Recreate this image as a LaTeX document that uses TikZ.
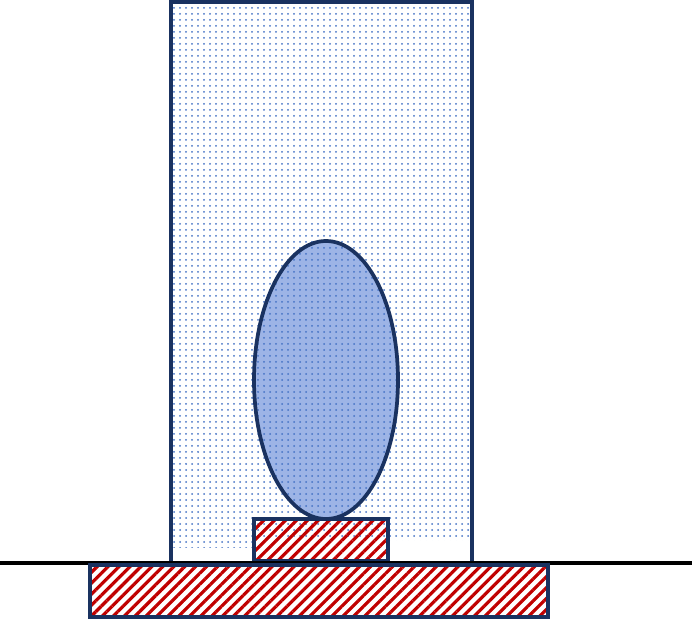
\documentclass[tikz,border=0pt]{standalone}
\usepackage{tikz}
\usetikzlibrary{patterns.meta}
\definecolor{navy}{HTML}{1A3260}
\definecolor{dotblue}{HTML}{4472C4}
\definecolor{eggblue}{HTML}{9DB4E6}
\definecolor{hatchred}{HTML}{C00000}

\begin{document}
\begin{tikzpicture}[x=0.75pt,y=-0.75pt,
		outline/.style={draw=navy,line width=2.8pt},
		hatched/.style={pattern={Lines[angle=45,distance=5.8pt,line width=2.4pt]},pattern color=hatchred},
		dotted fill/.style={pattern={Dots[distance=4.5pt,radius=0.75pt]},pattern color=dotblue}]
			\useasboundingbox (0,0) rectangle (695,620);
			% container with the dotted medium
			\fill[dotted fill] (171,2) rectangle (472,540);
			\fill[dotted fill] (171,540) rectangle (254,547);
			\draw[outline] (171,561) -- (171,2) -- (472,2) -- (472,561);
			% egg
			\fill[eggblue] (326,380) ellipse (72 and 139);
			\draw[outline,dotted fill] (326,380) ellipse (72 and 139);
			% small support
			\draw[outline,hatched] (254,519) rectangle (388,561);
			% ground line
			\draw[line width=3pt,black] (0,563) -- (692,563);
			% base
			\draw[outline,hatched] (90,565) rectangle (548,617);
		\end{tikzpicture}
\end{document}
